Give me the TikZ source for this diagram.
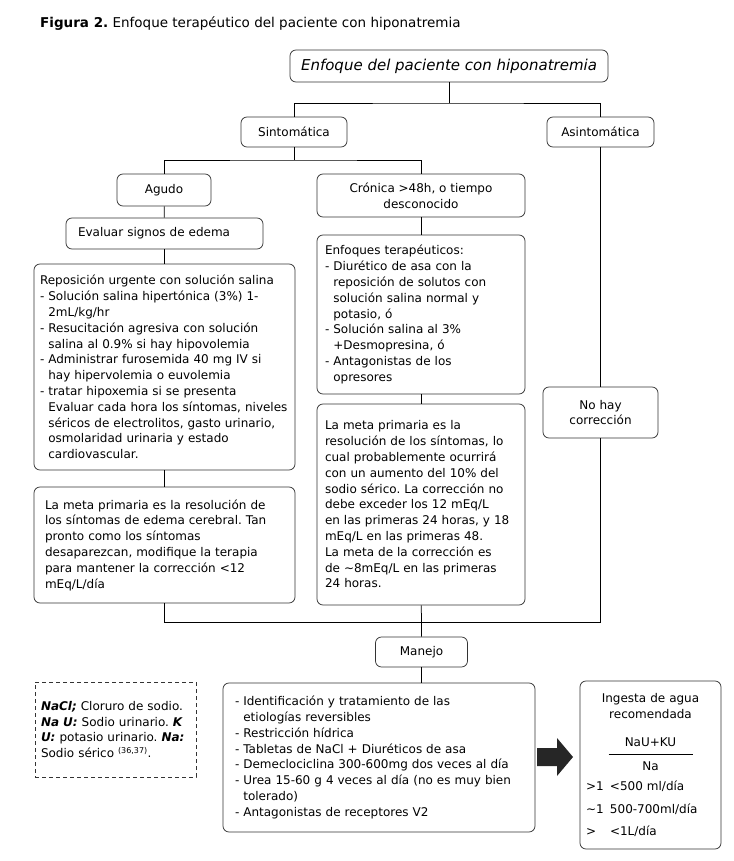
\documentclass[tikz,border=0pt]{standalone}
\usepackage{fontspec}
\setmainfont{DejaVu Sans}
\frenchspacing
\newcommand{\subln}{\phantom{- }}

\begin{document}
\begin{tikzpicture}[x=1pt, y=-1pt, font=\fontsize{12}{15.8}\selectfont,
  box/.style={draw=black!80, line width=0.75pt, rounded corners=6pt, inner ysep=3pt},
  lbox/.style={box, align=left},
  cbox/.style={box, align=center, inner xsep=4pt},
  link/.style={line width=0.75pt}]
  \useasboundingbox (0,0) rectangle (733,861);

  % Title
  \node[anchor=west, inner sep=0pt, font=\fontsize{13.5}{16}\selectfont] (title) at (40,24)
    {\textbf{Figura 2.} Enfoque terapéutico del paciente con hiponatremia};

  % Upper levels
  \node[cbox, minimum width=318pt, minimum height=32pt, font=\fontsize{15}{18}\selectfont\itshape] (top) at (449,66)
    {Enfoque del paciente con hiponatremia};
  \node[cbox, minimum width=106pt, minimum height=30pt] (sint) at (294,132) {Sintomática};
  \node[cbox, minimum width=107pt, minimum height=30pt] (asint) at (600.5,132) {Asintomática};
  \node[cbox, minimum width=94pt, minimum height=32pt] (agudo) at (164,190) {Agudo};
  \node[cbox, minimum width=208pt, minimum height=43pt] (cronica) at (421,195.5)
    {Crónica >48h, o tiempo\\desconocido};

  % Acute branch
  \node[lbox, inner xsep=12pt, text width=173pt, minimum height=31pt] (evaluar) at (164.5,233.5)
    {Evaluar signos de edema};
  \node[lbox, inner xsep=6pt, text width=249pt, minimum height=206pt] (repos) at (164.5,367)
    {Reposición urgente con solución salina\\
     - Solución salina hipertónica (3\%) 1-\\
     \subln 2mL/kg/hr\\
     - Resucitación agresiva con solución\\
     \subln salina al 0.9\% si hay hipovolemia\\
     - Administrar furosemida 40 mg IV si\\
     \subln hay hipervolemia o euvolemia\\
     - tratar hipoxemia si se presenta\\
     \subln Evaluar cada hora los síntomas, niveles\\
     \subln séricos de electrolitos, gasto urinario,\\
     \subln osmolaridad urinaria y estado\\
     \subln cardiovascular.};
  \node[lbox, inner xsep=11pt, text width=239pt, minimum height=116pt] (metaA) at (164.5,545)
    {La meta primaria es la resolución de\\
     los síntomas de edema cerebral. Tan\\
     pronto como los síntomas\\
     desaparezcan, modifique la terapia\\
     para mantener la corrección <12\\
     mEq/L/día};

  % Chronic branch
  \node[lbox, inner xsep=8pt, text width=192pt, minimum height=159pt] (enfoq) at (421,314.5)
    {Enfoques terapéuticos:\\
     - Diurético de asa con la\\
     \subln reposición de solutos con\\
     \subln solución salina normal y\\
     \subln potasio, ó\\
     - Solución salina al 3\%\\
     \subln +Desmopresina, ó\\
     - Antagonistas de los\\
     \subln opresores};
  \node[lbox, inner xsep=8pt, text width=192pt, minimum height=201pt] (metaC) at (421,504.5)
    {La meta primaria es la\\
     resolución de los síntomas, lo\\
     cual probablemente ocurrirá\\
     con un aumento del 10\% del\\
     sodio sérico. La corrección no\\
     debe exceder los 12 mEq/L\\
     en las primeras 24 horas, y 18\\
     mEq/L en las primeras 48.\\
     La meta de la corrección es\\
     de \textasciitilde8mEq/L en las primeras\\
     24 horas.};

  % Asymptomatic branch
  \node[cbox, minimum width=115pt, minimum height=51pt] (nohay) at (600.5,412.5) {No hay\\corrección};

  % Management
  \node[cbox, minimum width=92pt, minimum height=30pt] (manejo) at (421.5,652) {Manejo};
  \node[lbox, inner xsep=12pt, text width=288pt, minimum height=149pt] (lista) at (379,757.5)
    {- Identificación y tratamiento de las\\
     \subln etiologías reversibles\\
     - Restricción hídrica\\
     - Tabletas de NaCl + Diuréticos de asa\\
     - Demeclociclina 300-600mg dos veces al día\\
     - Urea 15-60 g 4 veces al día (no es muy bien\\
     \subln tolerado)\\
     - Antagonistas de receptores V2};

  % Legend
  \node[draw=black!80, dash pattern=on 4pt off 3pt, line width=0.75pt, align=left, inner xsep=6pt,
        text width=149pt, minimum height=95pt] (leyenda) at (115.5,729.5)
    {\textbf{\textit{NaCl;}} Cloruro de sodio.\\
     \textbf{\textit{Na U:}} Sodio urinario. \textbf{\textit{K}}\\
     \textbf{\textit{U:}} potasio urinario. \textbf{\textit{Na:}}\\
     Sodio sérico \textsuperscript{(36,37)}.};

  % Water intake
  \node[box, align=center, inner xsep=6pt, text width=129pt, minimum height=168pt] (ingesta) at (650.5,765)
    {Ingesta de agua\\
     recomendada\\[13pt]
     NaU+KU\\[-8pt]
     \rule{84pt}{0.75pt}\\
     Na\\[4pt]
     \makebox[\linewidth][l]{\makebox[24pt][l]{>1}<500 ml/día}\\[7pt]
     \makebox[\linewidth][l]{\makebox[24pt][l]{\textasciitilde1}500-700ml/día}\\[7pt]
     \makebox[\linewidth][l]{\makebox[24pt][l]{>}<1L/día}};

  % Block arrow
  \fill[black!85] (537,748) -- (557,748) -- (557,738) -- (573,757) -- (557,776) -- (557,766) -- (537,766) -- cycle;

  % Connectors
  \coordinate (j1) at (449,103);
  \coordinate (j2) at (294,160);
  \coordinate (j3) at (600.5,622);
  \draw[link] (top) -- (j1);
  \draw[link] (sint.north) |- (j1) -| (asint.north);
  \draw[link] (sint) -- (j2);
  \draw[link] (agudo.north) |- (j2) -| (cronica.north);
  \foreach \a/\b in {agudo/evaluar, evaluar/repos, repos/metaA, cronica/enfoq, enfoq/metaC, metaC/manejo, asint/nohay}
    \draw[link] (\a) -- (\b);
  \draw[link] (metaA.south) |- (j3) -- (nohay.south);
  \draw[link] (manejo.south) -- (manejo.south |- lista.north);
\end{tikzpicture}
\end{document}
